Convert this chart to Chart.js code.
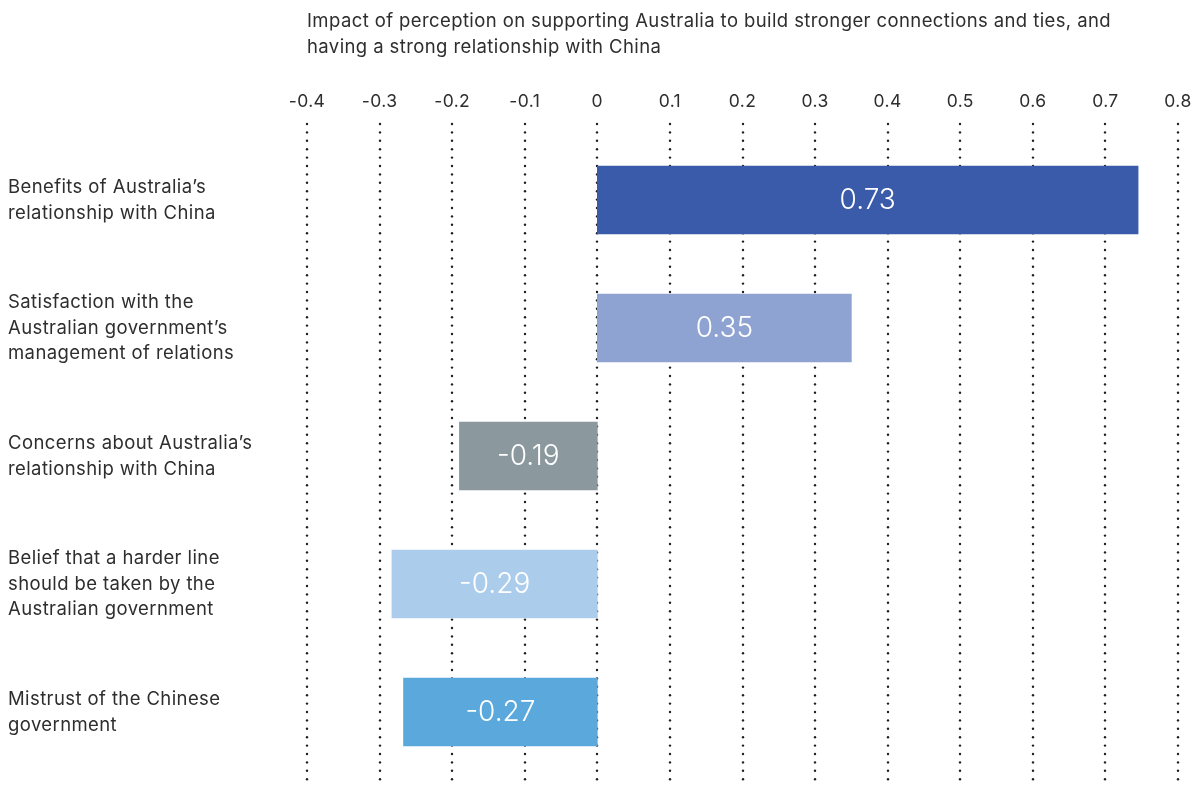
<!DOCTYPE html>
<html>
<head>
<meta charset="utf-8">
<script src="https://cdn.jsdelivr.net/npm/chart.js@4"></script>
<style>
html,body{margin:0;padding:0;background:#fff;}
#wrap{width:1200px;height:791px;position:relative;}
</style>
</head>
<body>
<div id="wrap"><canvas id="c" width="1200" height="791"></canvas></div>
<script>
const categories = [
  ["Benefits of Australia\u2019s", "relationship with China"],
  ["Satisfaction with the", "Australian government\u2019s", "management of relations"],
  ["Concerns about Australia\u2019s", "relationship with China"],
  ["Belief that a harder line", "should be taken by the", "Australian government"],
  ["Mistrust of the Chinese", "government"]
];
const barValues = [0.745, 0.35, -0.19, -0.283, -0.267];
const valueLabels = ["0.73", "0.35", "-0.19", "-0.29", "-0.27"];
const barColors = ["#3a5ba9", "#8fa3d2", "#8b989e", "#abcdeb", "#5aa8dc"];
const tickValues = [-0.4, -0.3, -0.2, -0.1, 0, 0.1, 0.2, 0.3, 0.4, 0.5, 0.6, 0.7, 0.8];
const titleLines = [
  "Impact of perception on supporting Australia to build stronger connections and ties, and",
  "having a strong relationship with China"
];

const FONT = "Inter, 'Liberation Sans', Arial, sans-serif";
const TEXT = "#2e2e2e";

const spacingPlugin = {
  id: 'spacing',
  beforeDraw(chart) { chart.ctx.letterSpacing = '0.4px'; }
};

const gridPlugin = {
  id: 'dotGrid',
  beforeDatasetsDraw(chart) {
    const ctx = chart.ctx, xs = chart.scales.x;
    ctx.save();
    ctx.fillStyle = "#1e1e1e";
    tickValues.forEach(v => {
      const x = Math.round(xs.getPixelForValue(v));
      for (let y = 124; y <= 786; y += 8.4) {
        ctx.beginPath();
        ctx.arc(x, y, 1.2, 0, Math.PI * 2);
        ctx.fill();
      }
    });
    ctx.restore();
  }
};

const labelPlugin = {
  id: 'valLabels',
  afterDatasetsDraw(chart) {
    const ctx = chart.ctx;
    const meta = chart.getDatasetMeta(0);
    ctx.save();
    ctx.letterSpacing = '0px';
    ctx.fillStyle = "#ffffff";
    ctx.font = "300 28px " + FONT;
    ctx.textAlign = "center";
    ctx.textBaseline = "middle";
    meta.data.forEach((bar, i) => {
      const cx = (bar.x + bar.base) / 2;
      ctx.fillText(valueLabels[i], cx, bar.y + 1);
    });
    ctx.restore();
  }
};

const titlePlugin = {
  id: 'leftTitle',
  afterDraw(chart) {
    const ctx = chart.ctx;
    ctx.save();
    ctx.letterSpacing = '0.4px';
    ctx.fillStyle = TEXT;
    ctx.font = "18.5px " + FONT;
    ctx.textAlign = "left";
    ctx.textBaseline = "middle";
    const x0 = chart.scales.x.getPixelForValue(-0.4);
    titleLines.forEach((t, i) => ctx.fillText(t, x0, 21 + i * 26));
    ctx.restore();
  }
};

new Chart(document.getElementById('c'), {
  type: 'bar',
  data: {
    labels: categories,
    datasets: [{
      data: barValues,
      backgroundColor: barColors,
      borderWidth: 0,
      barThickness: 68
    }]
  },
  options: {
    indexAxis: 'y',
    responsive: false,
    animation: false,
    layout: { padding: { left: 8, right: 22, top: 0, bottom: 15 } },
    plugins: { legend: { display: false }, tooltip: { enabled: false }, title: { display: false } },
    scales: {
      x: {
        position: 'top',
        min: -0.4, max: 0.8,
        afterBuildTicks(scale) { scale.ticks = tickValues.map(v => ({ value: v })); },
        afterFit(scale) { scale.height = 136; scale.paddingLeft = 0; scale.paddingRight = 0; },
        grid: { display: false, drawTicks: false },
        border: { display: false },
        ticks: {
          color: TEXT,
          font: { family: FONT, size: 17.5 },
          padding: 24,
          maxRotation: 0,
          callback: v => String(Math.round(v * 10) / 10)
        }
      },
      y: {
        afterFit(scale) { scale.width = 299; scale.paddingTop = 0; scale.paddingBottom = 0; },
        grid: { display: false, drawTicks: false },
        border: { display: false },
        ticks: {
          crossAlign: 'far',
          color: TEXT,
          font: { family: FONT, size: 18.5, lineHeight: 1.4 },
          padding: 0
        }
      }
    }
  },
  plugins: [spacingPlugin, gridPlugin, labelPlugin, titlePlugin]
});
</script>
</body>
</html>
